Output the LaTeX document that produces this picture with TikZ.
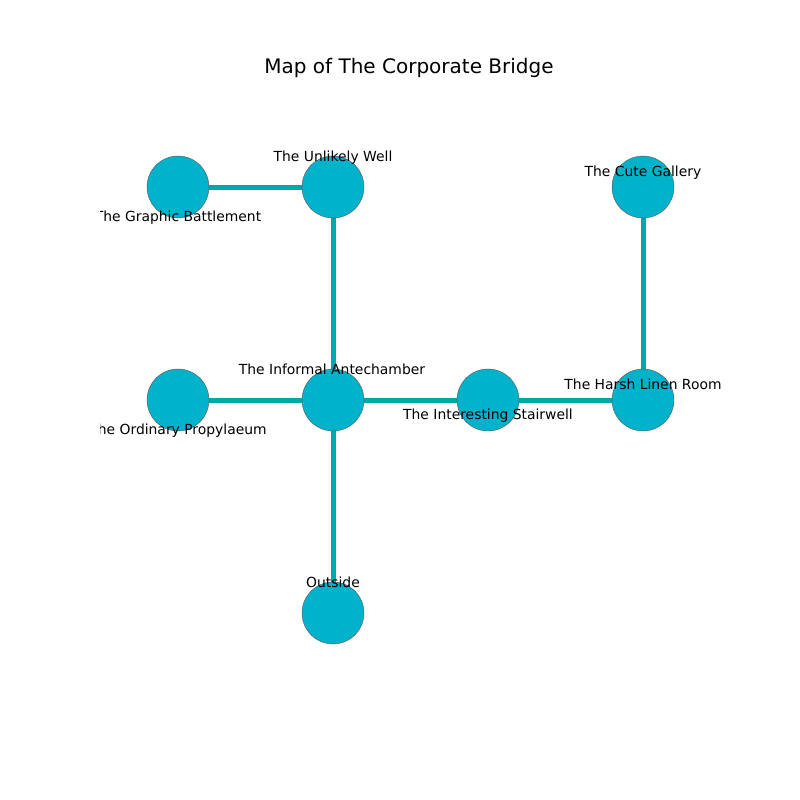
\documentclass[tikz,border=0pt]{standalone}
\usepackage{fontspec}
\setmainfont{DejaVu Sans}
\usetikzlibrary{backgrounds}
\definecolor{roomfill}{RGB}{0,178,202}
\definecolor{passagecol}{RGB}{0,168,170}
\tikzset{
	room/.style={circle,fill=roomfill,draw=gray!70!black,line width=0.3pt,minimum size=44.6pt,inner sep=0pt},
	passage/.style={draw=passagecol,line width=3.6pt},
	roomlabel/.style={font=\fontsize{10}{12}\selectfont,inner sep=0pt,anchor=base}
}
\begin{document}
\begin{tikzpicture}[x=0.72pt,y=-0.72pt]
			\useasboundingbox (0,0) rectangle (800,800);
			% title
			\node[font=\fontsize{14.4}{17}\selectfont] (title) at (409,68) {Map of The Corporate Bridge};
			% rooms
			\foreach \x/\y/\name in {178/187/battlement,333/187/well,643/187/gallery,178/400/propylaeum,333/400/antechamber,488/400/stairwell,643/400/linen,333/613/outside}
				\node[room] (\name) at (\x,\y) {};
			% passages
			\begin{pgfonlayer}{background}
				\foreach \a/\b in {battlement/well,well/antechamber,propylaeum/antechamber,antechamber/stairwell,stairwell/linen,linen/gallery,antechamber/outside}
					\draw[passage] (\a.center) -- (\b.center);
			\end{pgfonlayer}
			% labels (baselines)
			\begin{scope}
				\clip (100,0) rectangle (800,800);
				\foreach \x/\y/\name/\roomname in {333/161/well/The Unlikely Well,178/221/battlement/The Graphic Battlement,643/176/gallery/The Cute Gallery,332/374/antechamber/The Informal Antechamber,178/434/propylaeum/The Ordinary Propylaeum,488/419/stairwell/The Interesting Stairwell,643/389/linen/The Harsh Linen Room,333/587/outside/Outside}
					\node[roomlabel] (\name-label) at (\x,\y) {\roomname};
			\end{scope}
\end{tikzpicture}
\end{document}
